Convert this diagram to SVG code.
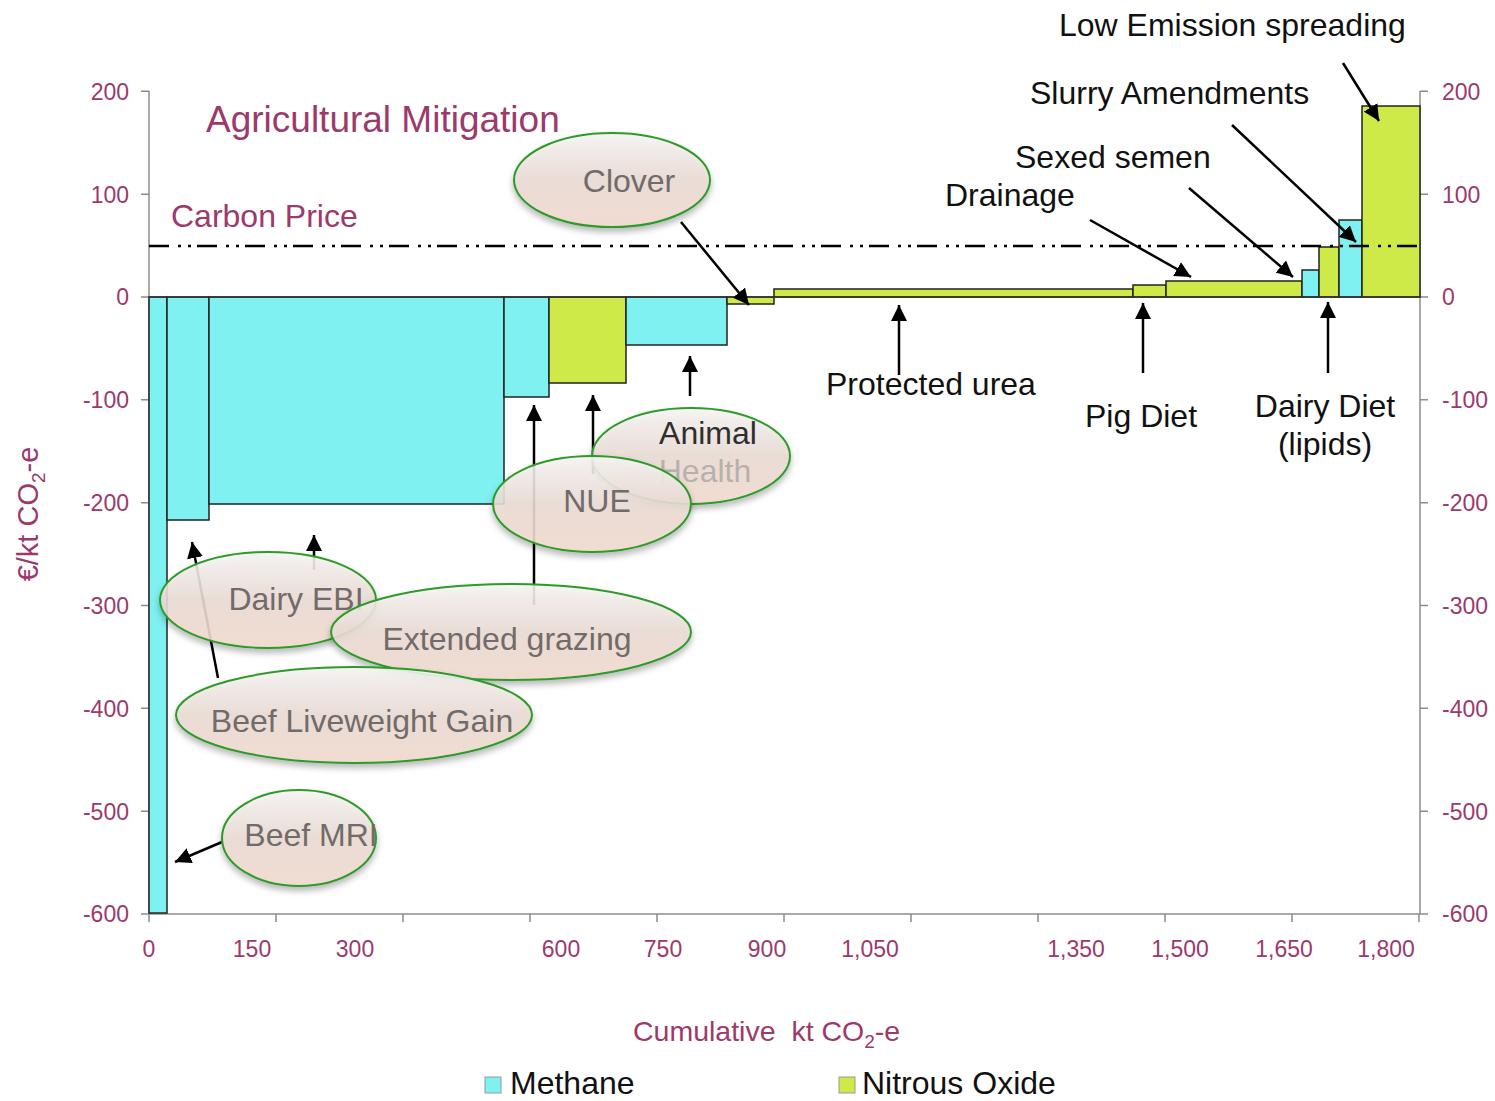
<svg xmlns="http://www.w3.org/2000/svg" width="1495" height="1101" viewBox="0 0 1495 1101">
<style>
.ax{stroke:#8c8c8c;stroke-width:1.5;fill:none}
.tl{font-family:"Liberation Sans",Arial,sans-serif;font-size:23px;fill:#9b3a6b}
.tr{font-family:"Liberation Sans",Arial,sans-serif;font-size:23px;fill:#9b3a6b}
.mg{font-family:"Liberation Sans",Arial,sans-serif;fill:#9b3a6b}
.lb{font-family:"Liberation Sans",Arial,sans-serif;font-size:32px;fill:#111}
.ch4{fill:#7ff1f0;stroke:#222;stroke-width:1.5}
.n2o{fill:#cdea48;stroke:#222;stroke-width:1.5}
.arr{stroke:#000;stroke-width:2.5;fill:none;marker-end:url(#ah)}
.el{fill:url(#eg);fill-opacity:0.88;stroke:#2e9a2a;stroke-width:2;filter:url(#sh)}
.et{font-family:"Liberation Sans",Arial,sans-serif;font-size:32px;fill:#716b69}
</style>
<defs>
<marker id="ah" markerUnits="userSpaceOnUse" markerWidth="16" markerHeight="16" refX="16" refY="8" orient="auto">
<path d="M0,0 L16,8 L0,16 z" fill="#000"/>
</marker>
<linearGradient id="eg" x1="0" y1="0" x2="0" y2="1">
<stop offset="0" stop-color="#f7f6f5"/>
<stop offset="0.5" stop-color="#ebdcd5"/>
<stop offset="1" stop-color="#f4dbcf"/>
</linearGradient>
<filter id="sh" x="-20%" y="-20%" width="140%" height="150%">
<feDropShadow dx="0" dy="4" stdDeviation="3" flood-color="#000" flood-opacity="0.3"/>
</filter>
</defs>
<rect width="1495" height="1101" fill="#fff"/>

<g id="title">
<text class="mg" x="206" y="132" font-size="37">Agricultural Mitigation</text>
<text class="mg" x="171" y="227" font-size="32">Carbon Price</text>
</g>

<g id="axes">
<line class="ax" x1="149" y1="91" x2="149" y2="914"/>
<line class="ax" x1="1420" y1="91" x2="1420" y2="914"/>
<line class="ax" x1="149" y1="914" x2="1420" y2="914"/>
<path class="ax" d="M141,91.3H149M141,194.2H149M141,297H149M141,399.8H149M141,502.7H149M141,605.5H149M141,708.3H149M141,811.2H149M141,914H149"/>
<path class="ax" d="M1420,91.3H1428M1420,194.2H1428M1420,297H1428M1420,399.8H1428M1420,502.7H1428M1420,605.5H1428M1420,708.3H1428M1420,811.2H1428M1420,914H1428"/>
<path class="ax" d="M149,914V922M276,914V922M403,914V922M530,914V922M657,914V922M784,914V922M911,914V922M1038,914V922M1165,914V922M1292,914V922M1419,914V922"/>
<g text-anchor="end">
<text class="tl" x="129" y="100">200</text>
<text class="tl" x="129" y="203">100</text>
<text class="tl" x="129" y="305">0</text>
<text class="tl" x="129" y="408">-100</text>
<text class="tl" x="129" y="511">-200</text>
<text class="tl" x="129" y="614">-300</text>
<text class="tl" x="129" y="717">-400</text>
<text class="tl" x="129" y="820">-500</text>
<text class="tl" x="129" y="922">-600</text>
</g>
<g>
<text class="tr" x="1442" y="100">200</text>
<text class="tr" x="1442" y="203">100</text>
<text class="tr" x="1442" y="305">0</text>
<text class="tr" x="1442" y="408">-100</text>
<text class="tr" x="1442" y="511">-200</text>
<text class="tr" x="1442" y="614">-300</text>
<text class="tr" x="1442" y="717">-400</text>
<text class="tr" x="1442" y="820">-500</text>
<text class="tr" x="1442" y="922">-600</text>
</g>
<g text-anchor="middle">
<text class="tl" x="149" y="957">0</text>
<text class="tl" x="252" y="957">150</text>
<text class="tl" x="355" y="957">300</text>
<text class="tl" x="561" y="957">600</text>
<text class="tl" x="663" y="957">750</text>
<text class="tl" x="767" y="957">900</text>
<text class="tl" x="870" y="957">1,050</text>
<text class="tl" x="1076" y="957">1,350</text>
<text class="tl" x="1180" y="957">1,500</text>
<text class="tl" x="1284" y="957">1,650</text>
<text class="tl" x="1386" y="957">1,800</text>
</g>
<text class="mg" x="633" y="1041" font-size="28.5" xml:space="preserve">Cumulative  kt CO<tspan font-size="19" dy="7">2</tspan><tspan dy="-7">-e</tspan></text>
<text class="mg" font-size="29" transform="translate(38,514) rotate(-90)" text-anchor="middle">€/kt CO<tspan font-size="19" dy="7">2</tspan><tspan dy="-7">-e</tspan></text>
</g>

<g id="bars">
<rect class="ch4" x="149" y="297" width="18" height="616"/>
<rect class="ch4" x="167" y="297" width="42" height="223"/>
<rect class="ch4" x="209" y="297" width="295" height="207"/>
<rect class="ch4" x="504" y="297" width="45" height="100"/>
<rect class="n2o" x="549" y="297" width="77" height="86"/>
<rect class="ch4" x="626" y="297" width="101" height="48"/>
<rect class="n2o" x="727" y="297" width="47" height="7"/>
<rect class="n2o" x="774" y="289" width="359" height="8"/>
<rect class="n2o" x="1133" y="285" width="33" height="12"/>
<rect class="n2o" x="1166" y="281" width="136" height="16"/>
<rect class="ch4" x="1302" y="270" width="17" height="27"/>
<rect class="n2o" x="1319" y="247" width="20" height="50"/>
<rect class="ch4" x="1339" y="220" width="23" height="77"/>
<rect class="n2o" x="1362" y="106" width="58" height="191"/>
<line x1="149" y1="297" x2="1420" y2="297" stroke="#333" stroke-width="1.5"/>
</g>

<g id="carbon-price">
<line x1="149" y1="246" x2="1420" y2="246" stroke="#000" stroke-width="2.5" stroke-dasharray="20 9 3 7 3 6"/>
</g>

<g id="connectors">
<line class="arr" x1="222" y1="842" x2="175" y2="862"/>
<line class="arr" x1="218" y1="678" x2="192" y2="542"/>
<line class="arr" x1="314" y1="570" x2="314" y2="535"/>
<line class="arr" x1="534" y1="605" x2="534" y2="405"/>
<line class="arr" x1="593" y1="474" x2="593" y2="395"/>
<line class="arr" x1="690" y1="396" x2="690" y2="356"/>
<line class="arr" x1="681" y1="222" x2="749" y2="305"/>
<line class="arr" x1="899" y1="375" x2="899" y2="305"/>
<line class="arr" x1="1143" y1="373" x2="1143" y2="303"/>
<line class="arr" x1="1328" y1="373" x2="1328" y2="302"/>
<line class="arr" x1="1090" y1="220" x2="1191" y2="277"/>
<line class="arr" x1="1189" y1="188" x2="1293" y2="277"/>
<line class="arr" x1="1232" y1="125" x2="1356" y2="242"/>
<line class="arr" x1="1343" y1="63" x2="1379" y2="121"/>
</g>

<g id="labels">
<text class="lb" x="1059" y="36">Low Emission spreading</text>
<text class="lb" x="1030" y="104">Slurry Amendments</text>
<text class="lb" x="1015" y="168">Sexed semen</text>
<text class="lb" x="945" y="206">Drainage</text>
<text class="lb" x="826" y="395">Protected urea</text>
<text class="lb" x="1085" y="427">Pig Diet</text>
<text class="lb" x="1325" y="417" text-anchor="middle">Dairy Diet</text>
<text class="lb" x="1325" y="455" text-anchor="middle">(lipids)</text>
</g>

<g id="node-clover">
<ellipse class="el" cx="612" cy="180" rx="98" ry="47"/>
<text class="et" x="629" y="192" text-anchor="middle">Clover</text>
</g>
<g id="node-dairy-ebi">
<ellipse class="el" cx="268" cy="600" rx="108" ry="48"/>
<text class="et" x="296" y="610" text-anchor="middle">Dairy EBI</text>
</g>
<g id="node-extended-grazing">
<ellipse class="el" cx="511" cy="632" rx="180" ry="48"/>
<text class="et" x="507" y="650" text-anchor="middle">Extended grazing</text>
</g>
<g id="node-beef-liveweight">
<ellipse class="el" cx="354" cy="715" rx="178" ry="48"/>
<text class="et" x="362" y="732" text-anchor="middle">Beef Liveweight Gain</text>
</g>
<g id="node-beef-mri">
<ellipse class="el" cx="299" cy="838" rx="77" ry="48"/>
<text class="et" x="311" y="846" text-anchor="middle">Beef MRI</text>
</g>
<g id="node-animal-health">
<ellipse class="el" cx="691" cy="456" rx="99" ry="48"/>
<text class="et" x="708" y="444" text-anchor="middle" style="fill:#2e2e2e">Animal</text>
<text class="et" x="705" y="482" text-anchor="middle" style="fill:#b8b0ad">Health</text>
</g>
<g id="node-nue">
<ellipse class="el" cx="592" cy="504" rx="99" ry="48"/>
<text class="et" x="597" y="512" text-anchor="middle">NUE</text>
</g>

<g id="legend">
<rect x="485" y="1077" width="16" height="16" fill="#7ff1f0" stroke="#999" stroke-width="1"/>
<text class="lb" x="510" y="1094" font-size="30">Methane</text>
<rect x="839" y="1077" width="16" height="16" fill="#cdea48" stroke="#999" stroke-width="1"/>
<text class="lb" x="862" y="1094" font-size="30.5">Nitrous Oxide</text>
</g>
</svg>
